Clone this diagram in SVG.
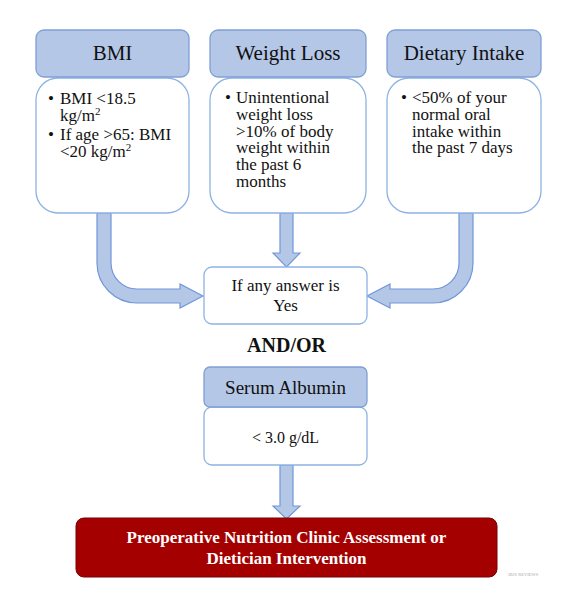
<svg xmlns="http://www.w3.org/2000/svg" width="568" height="608" viewBox="0 0 568 608">
<style>
.hdr{fill:#b4c7e7;stroke:#7f9fd6;stroke-width:1.3}
.body{fill:#ffffff;stroke:#8db3e2;stroke-width:1.3}
.arr{fill:#b4c7e7;stroke:#7097d8;stroke-width:1.2;stroke-linejoin:miter}
text{font-family:"Liberation Serif","Times New Roman",serif;fill:#111}
.h{font-size:21px;text-anchor:middle}
.t{font-size:17px}
.c{font-size:17px;text-anchor:middle}
.w{font-size:17px;font-weight:bold;fill:#fff;text-anchor:middle}
</style>
<rect width="568" height="608" fill="#fff"/>
<g id="connectors">
<path class="arr" d="M97,213 L97,263 A40,40 0 0 0 137,303 L180,303 L180,308 L203,296 L180,284 L180,289 L137,289 A26,26 0 0 1 111,263 L111,213 Z"/>
<path class="arr" d="M473,213 L473,263 A40,40 0 0 1 433,303 L390,303 L390,308 L367,296 L390,284 L390,289 L433,289 A26,26 0 0 0 459,263 L459,213 Z"/>
<path class="arr" d="M280,213 L280,253 L273,253 L286.5,267 L300,253 L293,253 L293,213 Z"/>
<path class="arr" d="M280,465 L280,506 L273,506 L286.5,519 L300,506 L293,506 L293,465 Z"/>
</g>
<g id="bmi">
<rect class="body" x="36" y="78" width="153" height="135" rx="22"/>
<rect class="hdr" x="36" y="30" width="153" height="47" rx="8"/>
<text class="h" x="112.5" y="60">BMI</text>
<text class="t"><tspan x="48" y="104">•</tspan><tspan x="60" y="104">BMI &lt;18.5</tspan><tspan x="60" y="121">kg/m</tspan><tspan font-size="11" dy="-6">2</tspan></text>
<text class="t"><tspan x="48" y="140">•</tspan><tspan x="60" y="140">If age &gt;65: BMI</tspan><tspan x="60" y="157">&lt;20 kg/m</tspan><tspan font-size="11" dy="-6">2</tspan></text>
</g>
<g id="weightloss">
<rect class="body" x="210" y="78" width="156" height="135" rx="22"/>
<rect class="hdr" x="210" y="30" width="156" height="47" rx="8"/>
<text class="h" x="288" y="60">Weight Loss</text>
<text class="t"><tspan x="225" y="103">•</tspan><tspan x="236" y="103">Unintentional</tspan><tspan x="236" y="120">weight loss</tspan><tspan x="236" y="137">&gt;10% of body</tspan><tspan x="236" y="153">weight within</tspan><tspan x="236" y="170">the past 6</tspan><tspan x="236" y="187">months</tspan></text>
</g>
<g id="dietary">
<rect class="body" x="387" y="78" width="154" height="135" rx="22"/>
<rect class="hdr" x="387" y="30" width="154" height="47" rx="8"/>
<text class="h" x="464" y="60">Dietary Intake</text>
<text class="t"><tspan x="401" y="103">•</tspan><tspan x="412" y="103">&lt;50% of your</tspan><tspan x="412" y="120">normal oral</tspan><tspan x="412" y="137">intake within</tspan><tspan x="412" y="153">the past 7 days</tspan></text>
</g>
<g id="anyyes">
<rect class="body" x="204" y="267" width="163" height="57" rx="8"/>
<text class="c"><tspan x="285.5" y="291">If any answer is</tspan><tspan x="285.5" y="311">Yes</tspan></text>
</g>
<text x="286.5" y="352" font-size="20" font-weight="bold" text-anchor="middle">AND/OR</text>
<g id="albumin">
<rect class="body" x="204" y="407" width="163" height="58" rx="8"/>
<rect class="hdr" x="204" y="367" width="163" height="40" rx="6"/>
<text class="h" x="285.5" y="394" style="font-size:19px">Serum Albumin</text>
<text class="c" x="285.5" y="443" style="font-size:16px">&lt; 3.0 g/dL</text>
</g>
<g id="outcome">
<rect x="76" y="518" width="421" height="59" rx="8" fill="#a50000" stroke="#7a0000" stroke-width="1"/>
<text class="w"><tspan x="286.5" y="543">Preoperative Nutrition Clinic Assessment or</tspan><tspan x="286.5" y="564">Dietician Intervention</tspan></text>
</g>
<text x="508" y="576" font-size="4.5" style="fill:#aaa">JBJS REVIEWS</text>
</svg>
